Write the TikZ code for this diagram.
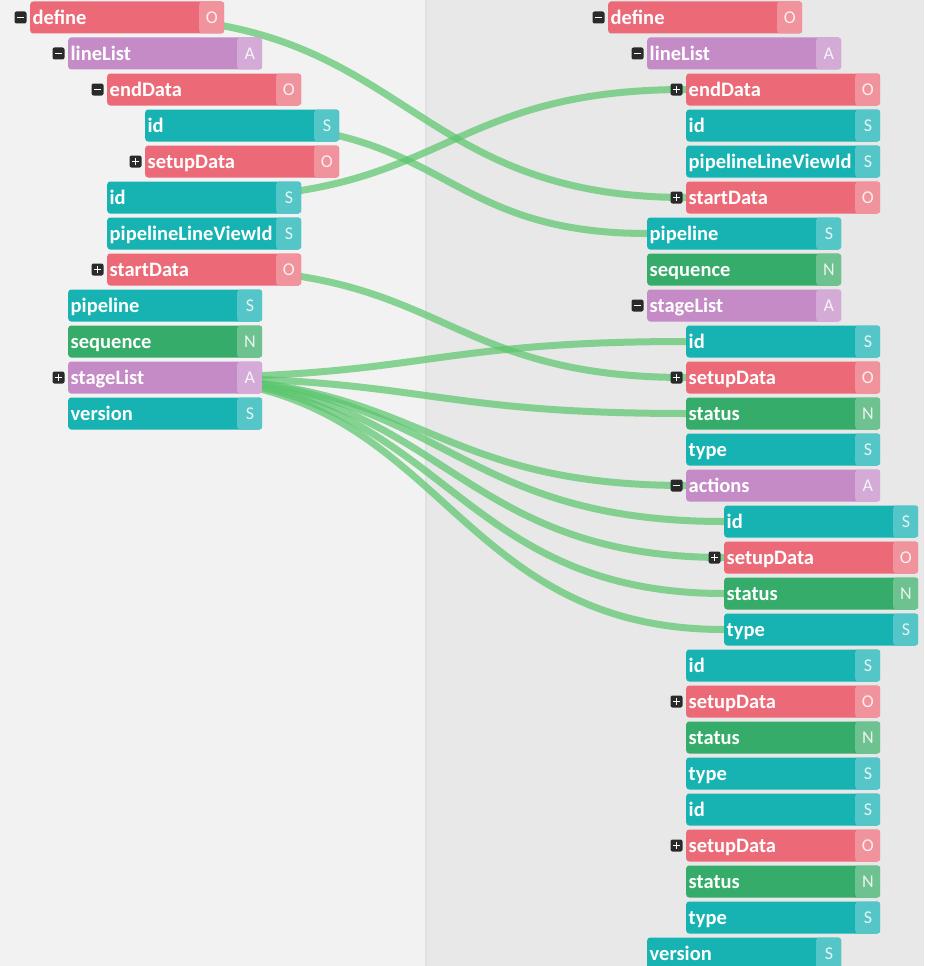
\documentclass[tikz,border=0pt]{standalone}
\usepackage{fontspec}
\setmainfont{Carlito}
\usetikzlibrary{calc}
\definecolor{redM}{HTML}{EC6A77}
\definecolor{redT}{HTML}{F0939C}
\definecolor{tealM}{HTML}{17B2B2}
\definecolor{tealT}{HTML}{55C6C8}
\definecolor{greenM}{HTML}{35AC69}
\definecolor{greenT}{HTML}{6DC28F}
\definecolor{purpM}{HTML}{C48BC6}
\definecolor{purpT}{HTML}{D4ABD6}
\definecolor{iconC}{HTML}{2A2A2A}
\definecolor{linkC}{HTML}{5CC66E}
\definecolor{bgL}{HTML}{F2F2F2}
\definecolor{bgR}{HTML}{E8E8E8}
\pgfdeclarelayer{bglayer}
\pgfdeclarelayer{linklayer}
\pgfsetlayers{bglayer,linklayer,main}
\tikzset{
  fld/.style={rectangle, rounded corners=3pt, minimum width=194pt, minimum height=32pt,
    text width=189pt, align=left, inner xsep=2.5pt, inner ysep=0pt, anchor=west,
    text height=14pt, text depth=0pt,
    text=white, font=\bfseries\fontsize{20.5}{22}\selectfont},
  tletter/.style={inner sep=0pt, text=white, text opacity=0.85, font=\fontsize{18}{20}\selectfont},
  icon/.style={rectangle, fill=iconC, rounded corners=2pt, minimum size=12pt, inner sep=0pt},
  iconmark/.style={white, line width=1.7pt},
  link/.style={draw=linkC, line width=7pt, opacity=0.72,
    to path={let \p1=(\tikztostart), \p2=(\tikztotarget) in
      .. controls ({0.5*(\x1+\x2)},\y1) and ({0.5*(\x1+\x2)},\y2) .. (\tikztotarget)}}
}
\newcommand\mkfld[6]{%
  \node[fld, fill=#4M, path picture={\fill[#4T] ([xshift=-25pt]path picture bounding box.north east) rectangle (path picture bounding box.south east);}] (#1) at (#2,{17.5+36*#3}) {#6};
  \node[tletter] (#1-t) at ([xshift=-12.5pt]#1.east) {#5};
}
\newcommand\mkminus[1]{%
  \node[icon] (#1-i) at ([xshift=-9.5pt]#1.west) {};
  \draw[iconmark] ([xshift=-3.3pt]#1-i.center) -- ([xshift=3.3pt]#1-i.center);
}
\newcommand\mkplus[1]{%
  \mkminus{#1}%
  \draw[iconmark] ([yshift=-3.3pt]#1-i.center) -- ([yshift=3.3pt]#1-i.center);
}
\begin{document}
\begin{tikzpicture}[x=1pt,y=-1pt]
\useasboundingbox (0,0) rectangle (924,966);
\begin{pgfonlayer}{bglayer}
\fill[bgL] (0,0) rectangle (426,966);
\fill[bgR] (426,0) rectangle (924,966);
\fill[black!12] (424.5,0) rectangle (426.5,966);
\end{pgfonlayer}
% left tree
\mkfld{ldefine}{30}{0}{red}{O}{define}\mkminus{ldefine}
\mkfld{llineList}{68}{1}{purp}{A}{lineList}\mkminus{llineList}
\mkfld{lendData}{107}{2}{red}{O}{endData}\mkminus{lendData}
\mkfld{lendId}{145}{3}{teal}{S}{id}
\mkfld{lendSetup}{145}{4}{red}{O}{setupData}\mkplus{lendSetup}
\mkfld{lid}{107}{5}{teal}{S}{id}
\mkfld{lpvid}{107}{6}{teal}{S}{pipelineLineViewId}
\mkfld{lstart}{107}{7}{red}{O}{startData}\mkplus{lstart}
\mkfld{lpipe}{68}{8}{teal}{S}{pipeline}
\mkfld{lseq}{68}{9}{green}{N}{sequence}
\mkfld{lstage}{68}{10}{purp}{A}{stageList}\mkplus{lstage}
\mkfld{lver}{68}{11}{teal}{S}{version}
% right tree
\mkfld{rdefine}{608}{0}{red}{O}{define}\mkminus{rdefine}
\mkfld{rlineList}{647}{1}{purp}{A}{lineList}\mkminus{rlineList}
\mkfld{rendData}{686}{2}{red}{O}{endData}\mkplus{rendData}
\mkfld{rid}{686}{3}{teal}{S}{id}
\mkfld{rpvid}{686}{4}{teal}{S}{pipelineLineViewId}
\mkfld{rstart}{686}{5}{red}{O}{startData}\mkplus{rstart}
\mkfld{rpipe}{647}{6}{teal}{S}{pipeline}
\mkfld{rseq}{647}{7}{green}{N}{sequence}
\mkfld{rstage}{647}{8}{purp}{A}{stageList}\mkminus{rstage}
\mkfld{rsAid}{686}{9}{teal}{S}{id}
\mkfld{rsAsetup}{686}{10}{red}{O}{setupData}\mkplus{rsAsetup}
\mkfld{rsAstatus}{686}{11}{green}{N}{status}
\mkfld{rsAtype}{686}{12}{teal}{S}{type}
\mkfld{ractions}{686}{13}{purp}{A}{actions}\mkminus{ractions}
\mkfld{raid}{724}{14}{teal}{S}{id}
\mkfld{rasetup}{724}{15}{red}{O}{setupData}\mkplus{rasetup}
\mkfld{rastatus}{724}{16}{green}{N}{status}
\mkfld{ratype}{724}{17}{teal}{S}{type}
\mkfld{rsBid}{686}{18}{teal}{S}{id}
\mkfld{rsBsetup}{686}{19}{red}{O}{setupData}\mkplus{rsBsetup}
\mkfld{rsBstatus}{686}{20}{green}{N}{status}
\mkfld{rsBtype}{686}{21}{teal}{S}{type}
\mkfld{rsCid}{686}{22}{teal}{S}{id}
\mkfld{rsCsetup}{686}{23}{red}{O}{setupData}\mkplus{rsCsetup}
\mkfld{rsCstatus}{686}{24}{green}{N}{status}
\mkfld{rsCtype}{686}{25}{teal}{S}{type}
\mkfld{rver}{647}{26}{teal}{S}{version}
% connectors
\begin{pgfonlayer}{linklayer}
\draw[link] (ldefine.center) to (rstart.west);
\draw[link] (lendId.center) to (rpipe.west);
\draw[link] (lid.center) to (rendData.west);
\draw[link] (lstart.center) to (rsAsetup.west);
\draw[link] (lstage.center) to (rsAid.west);
\draw[link] (lstage.center) to (rsAstatus.west);
\draw[link] (lstage.center) to (ractions.west);
\draw[link] (lstage.center) to (raid.west);
\draw[link] (lstage.center) to (rasetup.west);
\draw[link] (lstage.center) to (rastatus.west);
\draw[link] (lstage.center) to (ratype.west);
\end{pgfonlayer}
\end{tikzpicture}
\end{document}
